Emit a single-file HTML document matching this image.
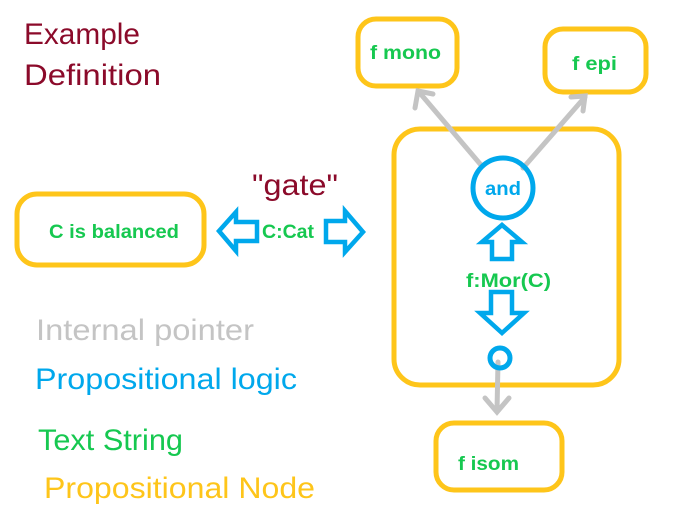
<!DOCTYPE html>
<html><head><meta charset="utf-8"><style>
html,body{margin:0;padding:0;background:#fff;width:676px;height:516px;overflow:hidden}
svg{display:block}
text{font-family:"Liberation Sans",sans-serif}
.b{font-weight:bold;fill:#16c850;font-size:19px}
</style></head><body>
<svg width="676" height="516" viewBox="0 0 676 516">
<g fill="none" stroke="#fec51a" stroke-width="5">
<rect x="394" y="129" width="225" height="256" rx="26"/>
<rect x="358" y="19" width="99" height="67" rx="18"/>
<rect x="545" y="29" width="101" height="63" rx="18"/>
<rect x="436" y="423" width="126" height="67" rx="18"/>
<rect x="17" y="194" width="187" height="71" rx="20"/>
</g>
<g stroke="#c4c4c4" stroke-width="5" fill="none" stroke-linecap="round">
<line x1="481" y1="165" x2="419" y2="92"/>
<polyline points="415,108 418,91 433,94"/>
<line x1="523" y1="168" x2="585" y2="97"/>
<polyline points="571,97 585,96 583,111"/>
<line x1="498" y1="362" x2="497" y2="411"/>
<polyline points="485,398 497,412 509,398"/>
</g>
<g fill="none" stroke="#00a8ec" stroke-width="5">
<circle cx="503" cy="188" r="30"/>
<circle cx="500" cy="358" r="10"/>
</g>
<g fill="none" stroke="#00a8ec" stroke-width="4.5" stroke-linejoin="miter">
<polygon points="502,225 522,242 512,242 512,259 492,259 492,242 482,242"/>
<polygon points="491,292 512,292 512,313 524,313 502,333 480,313 491,313"/>
<polygon points="219,231 236,212 236,222 257,222 257,241 236,241 236,251"/>
<polygon points="326,221 345,221 345,211 363,232 345,252 345,242 326,242"/>
</g>
<text x="485" y="195" textLength="36" lengthAdjust="spacingAndGlyphs" font-weight="bold" font-size="19" fill="#00a8ec">and</text>
<text class="b" x="466" y="287" textLength="85" lengthAdjust="spacingAndGlyphs">f:Mor(C)</text>
<text class="b" x="370" y="59" textLength="71" lengthAdjust="spacingAndGlyphs">f mono</text>
<text class="b" x="572" y="70" textLength="45" lengthAdjust="spacingAndGlyphs">f epi</text>
<text class="b" x="458" y="470" textLength="61" lengthAdjust="spacingAndGlyphs">f isom</text>
<text class="b" x="49" y="238" textLength="130" lengthAdjust="spacingAndGlyphs">C is balanced</text>
<text class="b" x="262" y="238" textLength="52" lengthAdjust="spacingAndGlyphs">C:Cat</text>
<text x="252" y="195" textLength="86" lengthAdjust="spacingAndGlyphs" font-size="30" fill="#8b0a2a">"gate"</text>
<g font-size="30">
<text x="24" y="44" textLength="116" lengthAdjust="spacingAndGlyphs" fill="#8b0a2a">Example</text>
<text x="24" y="85" textLength="137" lengthAdjust="spacingAndGlyphs" fill="#8b0a2a">Definition</text>
<text x="36" y="340" textLength="218" lengthAdjust="spacingAndGlyphs" fill="#c4c4c4">Internal pointer</text>
<text x="35" y="389" textLength="262" lengthAdjust="spacingAndGlyphs" fill="#00a8ec">Propositional logic</text>
<text x="38" y="450" textLength="145" lengthAdjust="spacingAndGlyphs" fill="#16c850">Text String</text>
<text x="44" y="498" textLength="271" lengthAdjust="spacingAndGlyphs" fill="#fec51a">Propositional Node</text>
</g>
</svg>
</body></html>
